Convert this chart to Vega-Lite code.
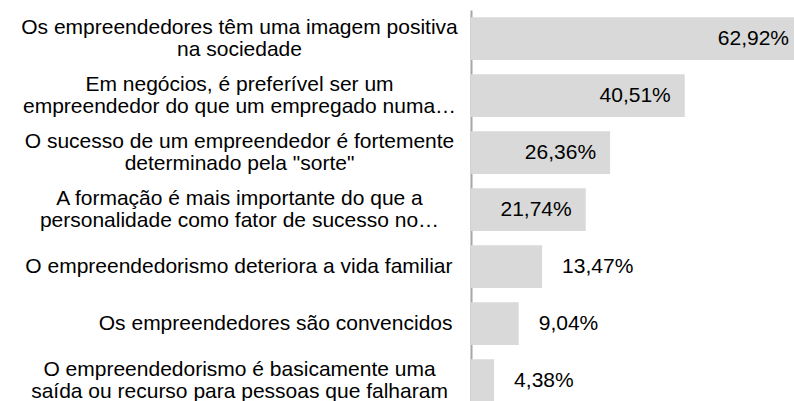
{
  "$schema": "https://vega.github.io/schema/vega-lite/v6.json",
  "width": 323,
  "height": 391,
  "autosize": {"type": "none"},
  "padding": {"left": 471, "top": 10, "right": 0, "bottom": 0},
  "background": "white",
  "config": {"view": {"stroke": null}, "font": "Liberation Sans"},
  "data": {
    "values": [
      {"item": "Os empreendedores têm uma imagem positiva\nna sociedade", "pct": 62.92, "txt": "62,92%"},
      {"item": "Em negócios, é preferível ser um\nempreendedor do que um empregado numa…", "pct": 40.51, "txt": "40,51%"},
      {"item": "O sucesso de um empreendedor é fortemente\ndeterminado pela \"sorte\"", "pct": 26.36, "txt": "26,36%"},
      {"item": "A formação é mais importante do que a\npersonalidade como fator de sucesso no…", "pct": 21.74, "txt": "21,74%"},
      {"item": "O empreendedorismo deteriora a vida familiar", "pct": 13.47, "txt": "13,47%"},
      {"item": "Os empreendedores são convencidos", "pct": 9.04, "txt": "9,04%"},
      {"item": "O empreendedorismo é basicamente uma\nsaída ou recurso para pessoas que falharam", "pct": 4.38, "txt": "4,38%"}
    ]
  },
  "encoding": {
    "y": {
      "field": "item",
      "type": "nominal",
      "sort": null,
      "scale": {"range": [0, 399], "paddingInner": 0.25, "paddingOuter": 0.125},
      "axis": {
        "title": null,
        "ticks": false,
        "domainColor": "#a6a6a6",
        "domainWidth": 2,
        "labelExpr": "split(datum.label, '\\n')",
        "labelAlign": {"condition": {"test": "indexof(datum.value, '\\n') >= 0", "value": "center"}, "value": "right"},
        "labelPadding": {"condition": {"test": "indexof(datum.value, '\\n') >= 0", "value": 232}, "value": 19},
        "labelOffset": {"condition": {"test": "indexof(datum.value, '\\n') >= 0", "value": -11}, "value": 0},
        "labelLimit": 0,
        "labelFont": "Liberation Sans",
        "labelFontSize": 21,
        "labelLineHeight": 22,
        "labelColor": "#000000"
      }
    },
    "x": {
      "field": "pct",
      "type": "quantitative",
      "scale": {"domain": [0, 65], "range": [0, 343]},
      "axis": null
    }
  },
  "layer": [
    {"mark": {"type": "bar", "color": "#d9d9d9"}},
    {
      "transform": [{"filter": "datum.pct > 20"}],
      "mark": {"type": "text", "align": "right", "baseline": "middle", "dx": -14, "fontSize": 21, "font": "Liberation Sans", "color": "#000000"},
      "encoding": {"text": {"field": "txt"}}
    },
    {
      "transform": [{"filter": "datum.pct <= 20"}],
      "mark": {"type": "text", "align": "left", "baseline": "middle", "dx": 20, "fontSize": 21, "font": "Liberation Sans", "color": "#000000"},
      "encoding": {"text": {"field": "txt"}}
    }
  ]
}
